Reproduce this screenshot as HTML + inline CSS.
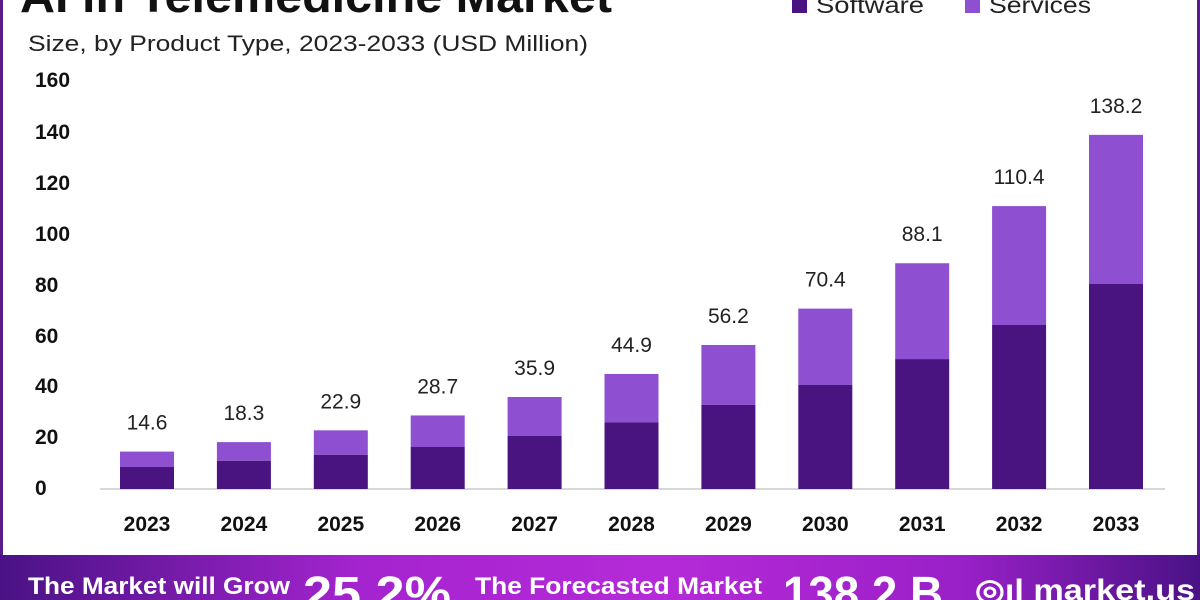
<!DOCTYPE html>
<html><head><style>
body{margin:0;width:1200px;height:600px;overflow:hidden;background:#fff;font-family:"Liberation Sans",sans-serif}
.wrap{position:relative;width:1200px;height:600px;border-left:3px solid #5a1a8a;border-right:3px solid #5a1a8a;box-sizing:border-box}
</style></head><body>
<div class="wrap"></div>
<svg width="1200" height="600" style="position:absolute;left:0;top:0">
<text x="20" y="12" font-size="46" font-weight="bold" fill="#111" textLength="592" lengthAdjust="spacingAndGlyphs">AI in Telemedicine Market</text>
<rect x="792" y="-4" width="15" height="17" fill="#4a1480"/>
<text x="816" y="13" font-size="23" fill="#222" textLength="108" lengthAdjust="spacingAndGlyphs">Software</text>
<rect x="965" y="-4" width="15" height="17" fill="#8e4fd0"/>
<text x="989" y="13" font-size="23" fill="#222" textLength="102" lengthAdjust="spacingAndGlyphs">Services</text>
<text x="28" y="51" font-size="22" fill="#222" textLength="560" lengthAdjust="spacingAndGlyphs">Size, by Product Type, 2023-2033 (USD Million)</text>
<g font-size="21" font-weight="bold" fill="#111">
<text x="35" y="87">160</text><text x="35" y="139">140</text><text x="35" y="190">120</text><text x="35" y="241">100</text>
<text x="35" y="292">80</text><text x="35" y="343">60</text><text x="35" y="393">40</text><text x="35" y="444">20</text><text x="35" y="495">0</text>
</g>
<line x1="100" y1="489" x2="1165" y2="489" stroke="#ccc" stroke-width="1.5"/>
<g id="bars"></g>
<g font-size="21" font-weight="bold" fill="#111" text-anchor="middle" id="yrs"></g>
<g font-size="21" fill="#222" text-anchor="middle" id="vals"></g>
<defs><linearGradient id="g"><stop offset="0" stop-color="#4a1285"/><stop offset="0.3" stop-color="#a424cf"/><stop offset="0.55" stop-color="#b52ad8"/><stop offset="0.8" stop-color="#9a20c8"/><stop offset="1" stop-color="#4a1285"/></linearGradient></defs>
<rect x="0" y="555" width="1200" height="45" fill="url(#g)"/>
<g fill="#fff" font-weight="bold">
<text x="28" y="594" font-size="24" textLength="262" lengthAdjust="spacingAndGlyphs">The Market will Grow</text>
<text x="303" y="610" font-size="48" textLength="148" lengthAdjust="spacingAndGlyphs">25.2%</text>
<text x="475" y="594" font-size="24" textLength="287" lengthAdjust="spacingAndGlyphs">The Forecasted Market</text>
<text x="783" y="610" font-size="48" textLength="160" lengthAdjust="spacingAndGlyphs">138.2 B</text>
<text x="975" y="600" font-size="30" textLength="220" lengthAdjust="spacingAndGlyphs">◎ıl market.us</text>
</g>
</svg>
<script>
var d=[[14.6,8.6],[18.3,11],[22.9,13.3],[28.7,16.4],[35.9,20.7],[44.9,26],[56.2,32.8],[70.4,40.6],[88.1,50.7],[110.4,64],[138.2,80]];
var ns="http://www.w3.org/2000/svg",b=document.getElementById("bars"),y=document.getElementById("yrs"),v=document.getElementById("vals");
function el(p,t,a,tx){var e=document.createElementNS(ns,t);for(var k in a)e.setAttribute(k,a[k]);if(tx)e.textContent=tx;p.appendChild(e);}
d.forEach(function(r,i){var c=147+i*96.9,s=2.5625,tt=489-r[0]*s,ts=489-r[1]*s;
el(b,"rect",{x:c-27,y:tt,width:54,height:ts-tt,fill:"#8e4fd0"});
el(b,"rect",{x:c-27,y:ts,width:54,height:489-ts,fill:"#4a1480"});
el(y,"text",{x:c,y:531},String(2023+i));
el(v,"text",{x:c,y:tt-22},r[0].toFixed(1));});
</script>
</body></html>
